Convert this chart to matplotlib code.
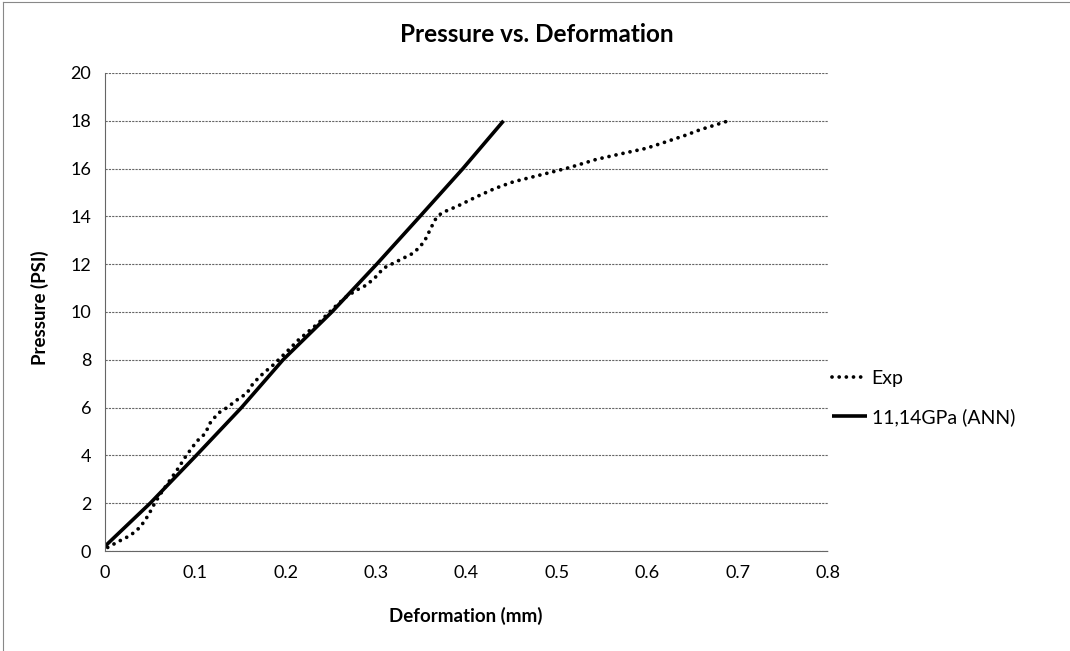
import matplotlib
matplotlib.use("Agg")
import matplotlib.pyplot as plt
from matplotlib.lines import Line2D

# Data
exp_x = [0.003, 0.015, 0.028, 0.039, 0.048, 0.055, 0.063, 0.072, 0.081, 0.090, 0.096,
         0.101, 0.111, 0.116, 0.125, 0.135, 0.146, 0.157, 0.164, 0.175, 0.186, 0.192,
         0.203, 0.214, 0.225, 0.236, 0.245, 0.2545, 0.267, 0.2785, 0.2895, 0.3005,
         0.308, 0.319, 0.330, 0.341, 0.3485, 0.354, 0.3596, 0.365, 0.372, 0.380,
         0.389, 0.411, 0.4315, 0.452, 0.474, 0.496, 0.5145, 0.544, 0.5735, 0.599,
         0.6215, 0.6435, 0.658, 0.679, 0.690]
exp_y = [0.15, 0.40, 0.65, 1.00, 1.50, 2.00, 2.48, 2.97, 3.46, 4.00, 4.30,
         4.57, 4.92, 5.34, 5.76, 6.00, 6.32, 6.60, 7.02, 7.43, 7.78, 8.00,
         8.41, 8.83, 9.18, 9.53, 9.87, 10.22, 10.64, 10.92, 11.13, 11.50,
         11.83, 12.04, 12.25, 12.46, 12.73, 13.00, 13.43, 13.85, 14.13, 14.27,
         14.41, 14.82, 15.17, 15.45, 15.66, 15.87, 16.05, 16.39, 16.64, 16.85,
         17.13, 17.41, 17.62, 17.87, 18.00]

ann_x = [0.0, 0.050, 0.101, 0.151, 0.197, 0.251, 0.3006, 0.3485, 0.396, 0.441]
ann_y = [0.2, 2.0, 4.0, 6.0, 8.0, 10.0, 12.0, 14.0, 16.0, 18.0]

x_ticks = [0, 0.1, 0.2, 0.3, 0.4, 0.5, 0.6, 0.7, 0.8]
x_tick_labels = ["0", "0.1", "0.2", "0.3", "0.4", "0.5", "0.6", "0.7", "0.8"]
y_ticks = [0, 2, 4, 6, 8, 10, 12, 14, 16, 18, 20]

series_labels = ["Exp", "11,14GPa (ANN)"]
title = "Pressure vs. Deformation"
xlabel = "Deformation (mm)"
ylabel = "Pressure (PSI)"

plt.rcParams['font.family'] = ['Lato', 'DejaVu Sans']

W, H = 1070, 651
fig = plt.figure(figsize=(W / 100, H / 100), dpi=100)
ax = fig.add_axes([105 / W, 1 - 551 / H, (828 - 105) / W, (551 - 73) / H])

ax.plot(exp_x, exp_y, color='black', lw=2.7, linestyle=(0, (0.01, 1.9)),
        dash_capstyle='round', label=series_labels[0])
ax.plot(ann_x, ann_y, color='black', lw=2.6, solid_capstyle='butt',
        label=series_labels[1])

ax.set_xlim(0, 0.8)
ax.set_ylim(0, 20)
ax.set_xticks(x_ticks)
ax.set_xticklabels(x_tick_labels)
ax.set_yticks(y_ticks)
ax.tick_params(length=0, labelsize=13, pad=10)

ax.grid(axis='y', color='#666666', lw=0.8, linestyle=(0, (2, 1)))
ax.set_axisbelow(True)
for s in ['top', 'right']:
    ax.spines[s].set_visible(False)
for s in ['left', 'bottom']:
    ax.spines[s].set_color('#666666')
    ax.spines[s].set_linewidth(0.8)
    ax.spines[s].set_linestyle((0, (2, 1)))

fig.text(537 / W, 1 - 35 / H, title, ha='center', va='center',
         fontsize=17.5, fontweight='bold')
fig.text(466 / W, 1 - 616 / H, xlabel, ha='center', va='center',
         fontsize=13.5, fontweight='bold')
fig.text(40 / W, 1 - 308 / H, ylabel, ha='center', va='center',
         fontsize=13.5, fontweight='bold', rotation=90)

leg = ax.legend(loc='center left', bbox_to_anchor=(824 / W, 1 - 398 / H),
                bbox_transform=fig.transFigure, frameon=False, fontsize=14,
                handlelength=1.8, handletextpad=0.25, labelspacing=1.1,
                borderaxespad=0)

# outer chart border (top and left visible)
fig.add_artist(Line2D([3 / W, 1], [1 - 2 / H, 1 - 2 / H], transform=fig.transFigure,
                      color='#888888', lw=0.8))
fig.add_artist(Line2D([3 / W, 3 / W], [0, 1 - 2 / H], transform=fig.transFigure,
                      color='#888888', lw=0.8))

fig.savefig('out.png', dpi=100)
